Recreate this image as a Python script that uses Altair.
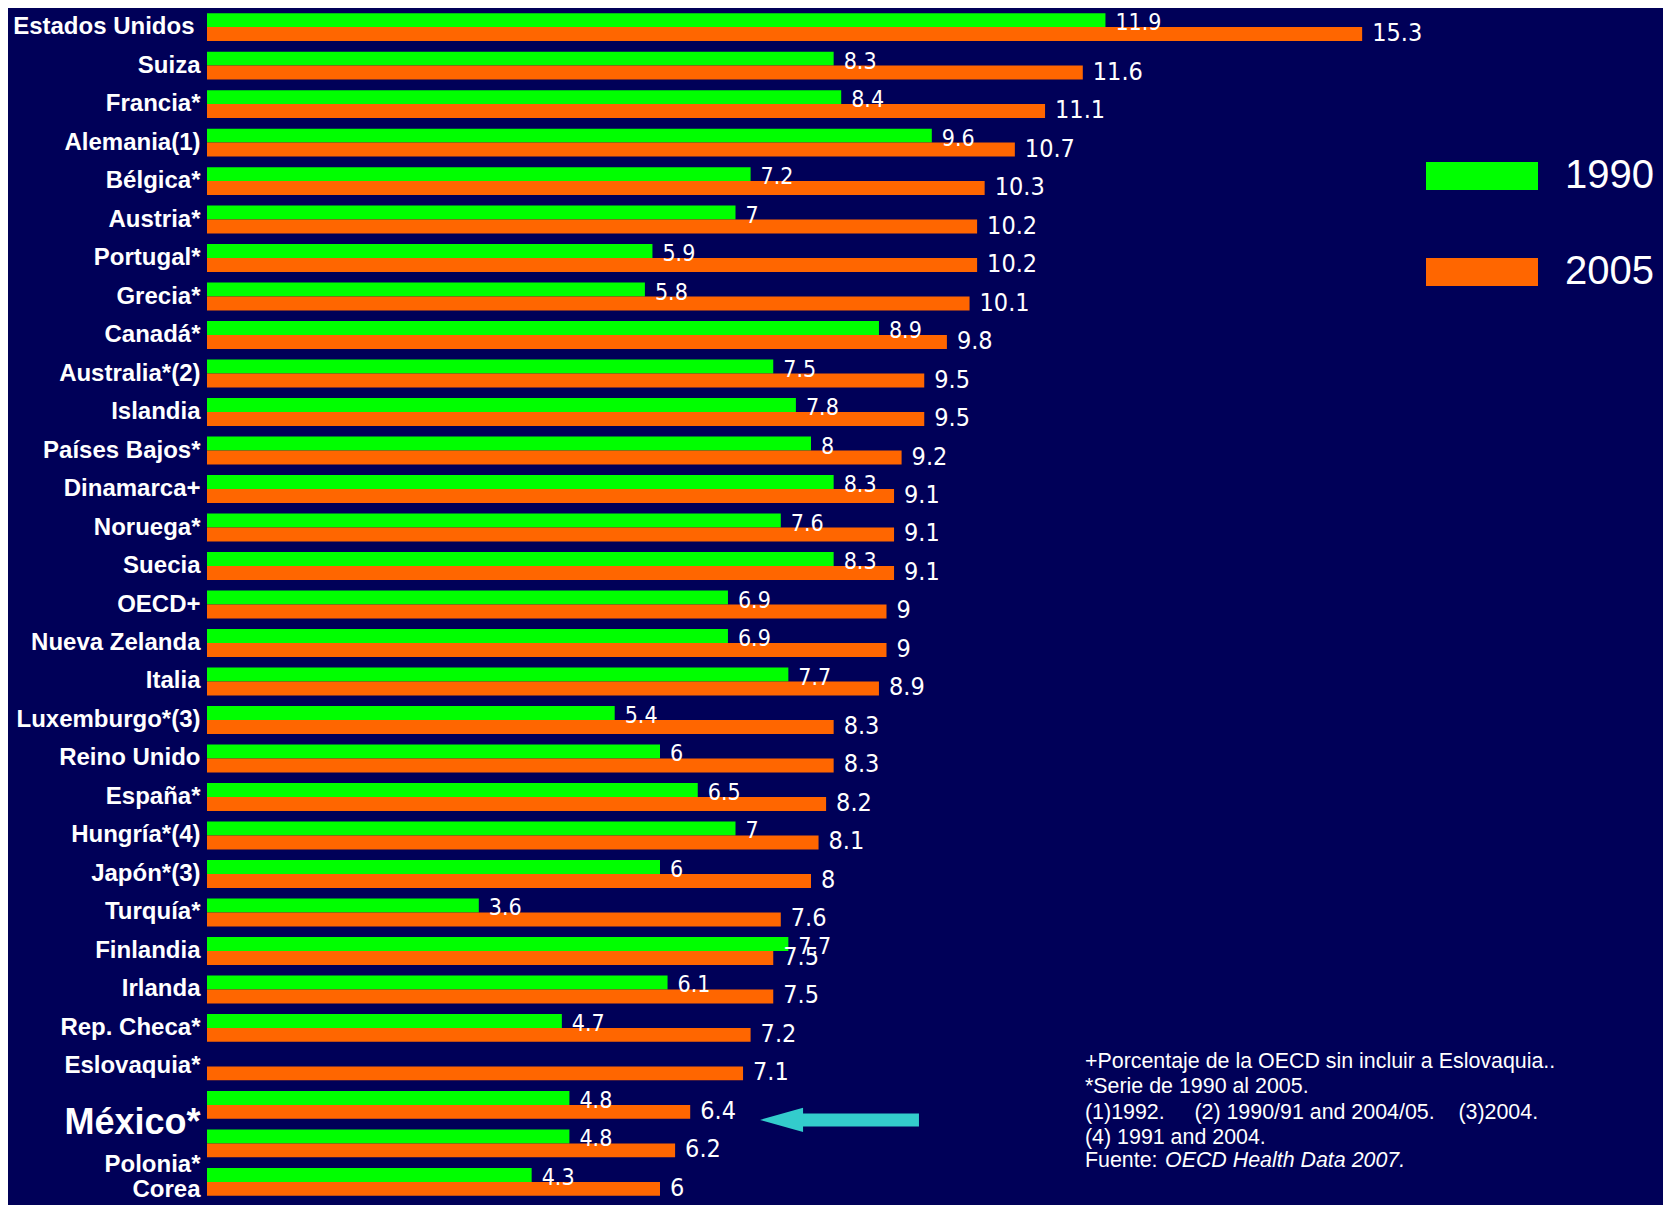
import altair as alt
import pandas as pd

countries = ["Estados Unidos", "Suiza", "Francia*", "Alemania(1)", "Bélgica*", "Austria*",
             "Portugal*", "Grecia*", "Canadá*", "Australia*(2)", "Islandia", "Países Bajos*",
             "Dinamarca+", "Noruega*", "Suecia", "OECD+", "Nueva Zelanda", "Italia",
             "Luxemburgo*(3)", "Reino Unido", "España*", "Hungría*(4)", "Japón*(3)", "Turquía*",
             "Finlandia", "Irlanda", "Rep. Checa*", "Eslovaquia*", "México*", "Polonia*", "Corea"]
v1990 = [11.9, 8.3, 8.4, 9.6, 7.2, 7, 5.9, 5.8, 8.9, 7.5, 7.8, 8, 8.3, 7.6, 8.3, 6.9, 6.9,
         7.7, 5.4, 6, 6.5, 7, 6, 3.6, 7.7, 6.1, 4.7, None, 4.8, 4.8, 4.3]
v2005 = [15.3, 11.6, 11.1, 10.7, 10.3, 10.2, 10.2, 10.1, 9.8, 9.5, 9.5, 9.2, 9.1, 9.1, 9.1,
         9, 9, 8.9, 8.3, 8.3, 8.2, 8.1, 8, 7.6, 7.5, 7.5, 7.2, 7.1, 6.4, 6.2, 6]
series = ["1990", "2005"]
colors = ["#00ff00", "#ff6600"]

# annotation arrow pointing at México (x in data units)
arrow_country = "México*"
arrow_shaft = [7.85, 9.43]
arrow_head = 7.61

notes = ("+Porcentaje de la OECD sin incluir a Eslovaquia..\n"
         "*Serie de 1990 al 2005.\n"
         "(1)1992.\u00a0\u00a0\u00a0\u00a0 (2) 1990/91 and 2004/05.\u00a0\u00a0\u00a0 (3)2004.\n"
         "(4) 1991 and 2004.")
source_label = "Fuente:"
source_name = "OECD Health Data 2007."

rows = []
for c, a, b in zip(countries, v1990, v2005):
    if a is not None:
        rows.append({"country": c, "series": "1990", "value": a, "label": f"{a:g}"})
    rows.append({"country": c, "series": "2005", "value": b, "label": f"{b:g}"})
df = pd.DataFrame(rows)

num_font = "Liberation Sans Narrow, DejaVu Sans Condensed, Roboto Condensed, sans-serif"

ysc = alt.Scale(paddingInner=0.275, paddingOuter=0.03)
label_size = {"condition": {"test": "datum.value === 'México*'", "value": 36}, "value": 24}
label_off = {"condition": [
    {"test": "datum.value === 'México*'", "value": 18},
    {"test": "datum.value === 'Polonia*'", "value": 22},
    {"test": "datum.value === 'Corea'", "value": 8},
], "value": 0}
label_pad = {"condition": {"test": "datum.value === 'Estados Unidos'", "value": 13}, "value": 7}

Y = alt.Y("country:N", sort=countries, scale=ysc, title=None,
          axis=alt.Axis(domain=False, ticks=False, tickSize=0, grid=False,
                        labelColor="white", labelFont="Liberation Sans",
                        labelFontWeight="bold", labelFontSize=label_size,
                        labelOffset=label_off, labelPadding=label_pad, labelLimit=0))
X = alt.X("value:Q", scale=alt.Scale(domain=[0, 16]), axis=None)
YO = alt.YOffset("series:N", sort=series, scale=alt.Scale(paddingInner=0, paddingOuter=0))

base = alt.Chart(df)

bars = base.mark_bar().encode(
    y=Y, x=X, yOffset=YO,
    color=alt.Color("series:N", sort=series,
                    scale=alt.Scale(domain=series, range=colors),
                    legend=alt.Legend(orient="none", legendX=1219, legendY=136, title=None,
                                      symbolType="M-2,-0.5H2V0.5H-2Z", symbolSize=3136,
                                      symbolStrokeWidth=0, symbolOffset=28, labelOffset=55,
                                      labelFontSize=40, labelColor="white",
                                      labelFont="Liberation Sans", rowPadding=48, padding=0,
                                      symbolOpacity=1)),
)

txt1990 = base.transform_filter("datum.series === '1990'").mark_text(
    align="left", baseline="middle", dx=10, dy=3, color="white", fontSize=23, font=num_font
).encode(y=Y, x=X, yOffset=YO, text="label:N")

txt2005 = base.transform_filter("datum.series === '2005'").mark_text(
    align="left", baseline="middle", dx=10, dy=-1, color="white", fontSize=25, font=num_font
).encode(y=Y, x=X, yOffset=YO, text="label:N")

arrow_df = pd.DataFrame({"country": [arrow_country], "x1": [arrow_shaft[0]],
                         "x2": [arrow_shaft[1]], "head": [arrow_head]})
shaft = alt.Chart(arrow_df).mark_rule(color="#33cccc", strokeWidth=13, yOffset=15).encode(
    y=alt.Y("country:N", sort=countries), x="x1:Q", x2="x2:Q")
head = alt.Chart(arrow_df).mark_point(shape="M-1,0L1,-0.56L1,0.56Z", size=1849, filled=True,
                                      opacity=1, color="#33cccc", strokeWidth=0,
                                      yOffset=15).encode(
    y=alt.Y("country:N", sort=countries), x="head:Q")

note_df = pd.DataFrame({"t": [notes]})
note = alt.Chart(note_df).mark_text(
    align="left", baseline="top", lineBreak="\n", lineHeight=25.4, fontSize=21.4,
    font="Liberation Sans", color="white"
).encode(x=alt.value(878), y=alt.value(1039), text="t:N")

src_df = pd.DataFrame({"a": [source_label], "b": [source_name]})
src1 = alt.Chart(src_df).mark_text(
    align="left", baseline="middle", fontSize=21.4, font="Liberation Sans", color="white"
).encode(x=alt.value(878), y=alt.value(1149), text="a:N")
src2 = alt.Chart(src_df).mark_text(
    align="left", baseline="middle", fontSize=21.4, font="Liberation Sans", fontStyle="italic",
    color="white"
).encode(x=alt.value(958), y=alt.value(1149), text="b:N")

chart = alt.layer(bars, txt1990, txt2005, shaft, head, note, src1, src2).properties(
    width=1208, height=1185,
    autosize=alt.AutoSizeParams(type="none"),
    padding={"left": 199, "top": 4, "right": 248, "bottom": 8},
    background="#000058"
).configure_view(strokeWidth=0)

chart.save("out.html", embed_options={"renderer": "svg", "actions": False})
